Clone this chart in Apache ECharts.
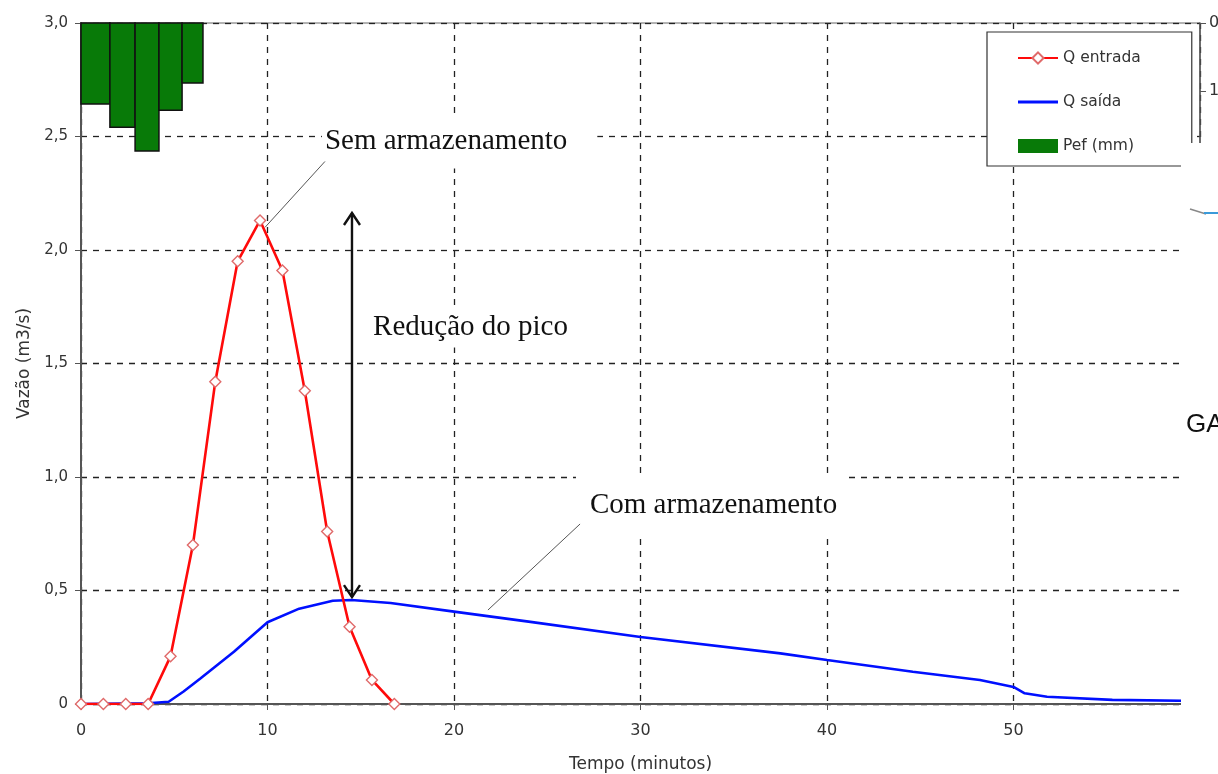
<!DOCTYPE html>
<html><head><meta charset="utf-8">
<script src="https://cdn.jsdelivr.net/npm/echarts@6/dist/echarts.min.js"></script>
<style>html,body{margin:0;padding:0;background:#fff}#c{width:1218px;height:774px}</style>
</head><body><div id="c"></div><script>
// ---- data ----
const entradaTime = [0, 1.2, 2.4, 3.6, 4.8, 6.0, 7.2, 8.4, 9.6, 10.8, 12.0, 13.2, 14.4, 15.6, 16.8];
const entradaQ    = [0, 0, 0, 0, 0.21, 0.70, 1.42, 1.95, 2.13, 1.91, 1.38, 0.76, 0.34, 0.106, 0];
const saidaTime = [0, 3.6, 4.7, 5.5, 6.4, 8.2, 10, 11.7, 13.5, 14.5, 16.6, 20, 24, 30, 37.5, 40, 44.6, 48.2, 50, 50.6, 51.8, 55.3, 60];
const saidaQ    = [0, 0.003, 0.01, 0.055, 0.112, 0.23, 0.36, 0.42, 0.455, 0.458, 0.445, 0.407, 0.363, 0.295, 0.223, 0.194, 0.142, 0.106, 0.075, 0.047, 0.032, 0.018, 0.013];
const pefStart = [0, 1.55, 2.9, 4.18, 5.42];
const pefEnd   = [1.55, 2.9, 4.18, 5.42, 6.54];
const pefMm    = [1.19, 1.53, 1.88, 1.28, 0.88];
const yTickLabels = ['0', '0,5', '1,0', '1,5', '2,0', '2,5', '3,0'];
const seriesNames = ['Q entrada', 'Q saída', 'Pef (mm)'];
const labelSem = 'Sem armazenamento';
const labelRed = 'Redução do pico';
const labelCom = 'Com armazenamento';
const labelGA = 'GA';

const chart = echarts.init(document.getElementById('c'), null, {renderer: 'canvas'});
const axisFont = 'DejaVu Sans';
const gridColor = '#222';

chart.setOption({
  animation: false,
  backgroundColor: '#fff',
  grid: {left: 81, right: 18, top: 23, bottom: 70, show: true, borderColor: '#666', borderWidth: 1, outerBoundsMode: 'none'},
  legend: {
    orient: 'vertical', left: 987, top: 32,
    padding: [18, 51, 12, 30], itemGap: 28, itemWidth: 40, itemHeight: 14,
    borderColor: '#333', borderWidth: 1.2, borderRadius: 0, backgroundColor: '#fff',
    textStyle: {fontFamily: axisFont, fontSize: 15.5, color: '#333'},
    data: [
      {name: seriesNames[0]},
      {name: seriesNames[1], icon: 'path://M0,0 L40,0 L40,3 L0,3 Z'},
      {name: seriesNames[2], icon: 'rect'}
    ]
  },
  xAxis: {
    type: 'value', min: 0, max: 60, interval: 10,
    name: 'Tempo (minutos)', nameLocation: 'middle', nameGap: 52,
    nameTextStyle: {fontFamily: axisFont, fontSize: 17, color: '#333'},
    axisLine: {show: true, lineStyle: {color: '#555', width: 2}},
    axisTick: {show: true, length: 6, lineStyle: {color: '#555'}},
    axisLabel: {fontFamily: axisFont, fontSize: 16, color: '#333', margin: 19},
    splitLine: {show: true, lineStyle: {color: gridColor, type: [6, 6], width: 1.3}}
  },
  yAxis: [{
    type: 'value', min: 0, max: 3, interval: 0.5,
    name: 'Vazão (m3/s)', nameLocation: 'middle', nameGap: 47, nameRotate: 90,
    nameTextStyle: {fontFamily: axisFont, fontSize: 17, color: '#333'},
    axisLine: {show: true, lineStyle: {color: '#555', width: 2}},
    axisTick: {show: true, length: 6, lineStyle: {color: '#555'}},
    axisLabel: {fontFamily: axisFont, fontSize: 15, color: '#333', margin: 13,
      formatter: v => yTickLabels[Math.round(v / 0.5)]},
    splitLine: {show: true, lineStyle: {color: gridColor, type: [6, 6], width: 1.3}}
  }, {
    type: 'value', min: 0, max: 10, interval: 1, inverse: true, position: 'right',
    axisLine: {show: true, lineStyle: {color: '#555', width: 1.5}},
    axisTick: {show: true, length: 6, lineStyle: {color: '#555'}},
    axisLabel: {fontFamily: axisFont, fontSize: 16, color: '#333', margin: 9},
    splitLine: {show: false}
  }],
  series: [{
    name: seriesNames[2], type: 'custom', yAxisIndex: 1, z: 1,
    itemStyle: {color: '#087a08'},
    encode: {x: [0, 1], y: 2},
    data: pefStart.map((s, i) => [s, pefEnd[i], pefMm[i]]),
    renderItem: (params, api) => {
      const p0 = api.coord([api.value(0), 0]);
      const p1 = api.coord([api.value(1), api.value(2)]);
      return {type: 'rect', shape: {x: p0[0], y: p0[1], width: p1[0] - p0[0], height: p1[1] - p0[1]},
        style: {fill: '#087a08', stroke: '#111', lineWidth: 1.5}};
    }
  }, {
    name: seriesNames[1], type: 'line', z: 3,
    data: saidaTime.map((t, i) => [t, saidaQ[i]]),
    showSymbol: false, symbol: 'none',
    lineStyle: {color: '#0010ff', width: 2.6},
    itemStyle: {color: '#0010ff'}
  }, {
    name: seriesNames[0], type: 'line', z: 4,
    data: entradaTime.map((t, i) => [t, entradaQ[i]]),
    symbol: 'diamond', symbolSize: 11, showSymbol: true,
    lineStyle: {color: '#ff0a0a', width: 2.6},
    itemStyle: {color: '#fff', borderColor: '#e06a6a', borderWidth: 1.4}
  }]
});

// ---- annotations placed through the chart's own scales ----
const P = (x, y) => chart.convertToPixel({gridIndex: 0}, [x, y]);
const ann = {
  sem: {at: [13.08, 2.48], pad: [15, 30, 11, 3]},
  red: {at: [15.66, 1.661], pad: [6, 15, 6, 8]},
  com: {at: [27.29, 0.877], pad: [3, 10, 30, 14]},
  semLine: [[9.87, 2.10], [13.08, 2.39]],
  comLine: [[21.82, 0.414], [26.76, 0.793]],
  arrow: {x: 14.53, top: 2.163, bottom: 0.471}
};
const serifFont = '29px "Liberation Serif", "DejaVu Serif", serif';
function textEl(txt, a) {
  const p = P(a.at[0], a.at[1]);
  return {type: 'text', z: 1, x: p[0] - a.pad[3], y: p[1],
    style: {text: txt, font: serifFont, fill: '#111', align: 'left', verticalAlign: 'middle',
      backgroundColor: '#fff', padding: a.pad}};
}
function lineEl(pts, color, w, z) {
  return {type: 'polyline', z: z, shape: {points: pts.map(q => P(q[0], q[1]))},
    style: {stroke: color, lineWidth: w, fill: null}};
}
const aTop = P(ann.arrow.x, ann.arrow.top), aBot = P(ann.arrow.x, ann.arrow.bottom);
const hw = 8, hh = 12;
const W = chart.getWidth(), H = chart.getHeight();
chart.setOption({
  graphic: [
    textEl(labelSem, ann.sem),
    textEl(labelRed, ann.red),
    textEl(labelCom, ann.com),
    lineEl(ann.semLine, '#555', 1, 5),
    lineEl(ann.comLine, '#555', 1, 5),
    {type: 'line', z: 10, shape: {x1: aTop[0], y1: aTop[1], x2: aBot[0], y2: aBot[1]}, style: {stroke: '#111', lineWidth: 2.4}},
    {type: 'polyline', z: 10, shape: {points: [[aTop[0] - hw, aTop[1] + hh], [aTop[0], aTop[1]], [aTop[0] + hw, aTop[1] + hh]]}, style: {stroke: '#111', lineWidth: 2.4, fill: null}},
    {type: 'polyline', z: 10, shape: {points: [[aBot[0] - hw, aBot[1] - hh], [aBot[0], aBot[1]], [aBot[0] + hw, aBot[1] - hh]]}, style: {stroke: '#111', lineWidth: 2.4, fill: null}},
    // cropped-off neighbouring figure at the right edge
    {type: 'rect', z: 100, shape: {x: W - 37, y: 143, width: 37, height: H - 143}, style: {fill: '#fff'}},
    {type: 'text', z: 101, x: W - 32, y: 425, style: {text: labelGA, font: '26px "Liberation Sans", Arial, sans-serif', fill: '#111', verticalAlign: 'middle'}},
    {type: 'polyline', z: 101, shape: {points: [[W - 28, 209], [W - 12, 214]]}, style: {stroke: '#888', lineWidth: 1.5, fill: null}},
    {type: 'polyline', z: 101, shape: {points: [[W - 14, 213], [W, 213]]}, style: {stroke: '#3a9ad9', lineWidth: 2, fill: null}}
  ]
});
</script></body></html>
